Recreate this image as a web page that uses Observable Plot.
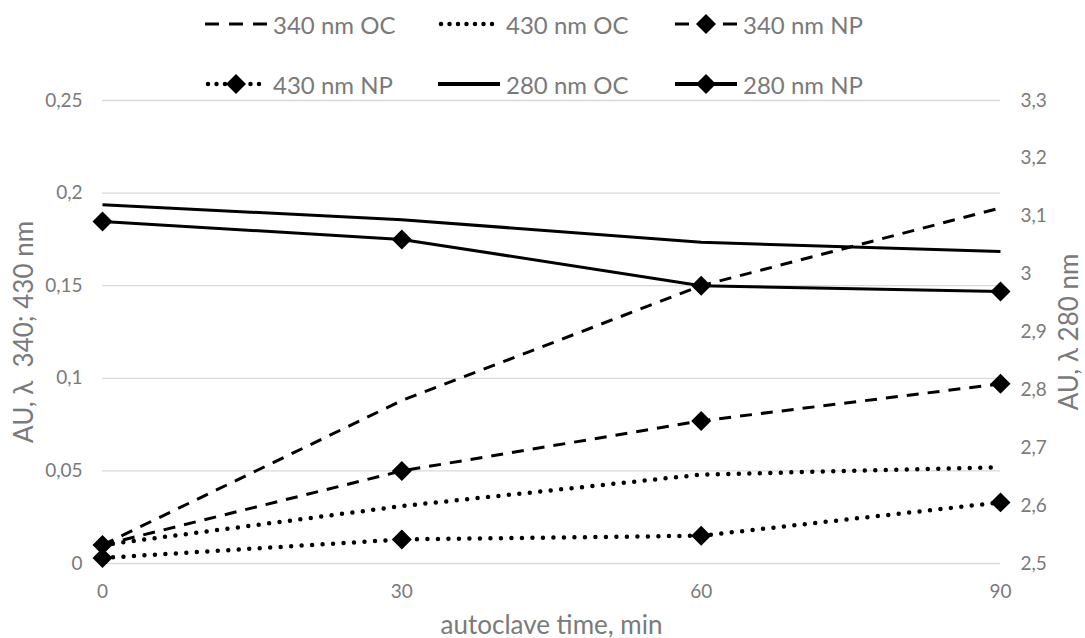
<!DOCTYPE html>
<html><head><meta charset="utf-8">
<script src="https://cdn.jsdelivr.net/npm/d3@7"></script>
<script src="https://cdn.jsdelivr.net/npm/@observablehq/plot@0.6"></script>
<style>
body{margin:0;background:#fff;font-family:Lato,sans-serif;}
#legend{position:relative;width:1085px;height:90px;}
#legend .item{position:absolute;height:30px;display:flex;align-items:center;}
#legend .item span{font-size:24px;color:#7a7a7a;margin-left:6px;white-space:nowrap;}
</style></head><body>
<div id="legend"></div>
<div id="chart"></div>
<script>
// ---- data ----
const times = [0, 30, 60, 90];
const seriesNames = ["340 nm OC", "430 nm OC", "340 nm NP", "430 nm NP", "280 nm OC", "280 nm NP"];
const oc340 = [0.010, 0.088, 0.150, 0.192];
const oc430 = [0.010, 0.031, 0.048, 0.052];
const np340 = [0.010, 0.050, 0.077, 0.097];
const np430 = [0.003, 0.013, 0.015, 0.033];
const oc280 = [3.120, 3.094, 3.055, 3.039];   // right axis
const np280 = [3.091, 3.060, 2.980, 2.970];   // right axis
const leftTicks = [0, 0.05, 0.1, 0.15, 0.2, 0.25];
const rightTicks = [2.5, 2.6, 2.7, 2.8, 2.9, 3.0, 3.1, 3.2, 3.3];
const xTicks = [0, 30, 60, 90];

// ---- styles ----
const DASH = "12,9", DOT = "0,10.5";
const styles = {
  "340 nm OC": {dash: DASH, cap: "butt", marker: false, right: false},
  "430 nm OC": {dash: DOT, cap: "round", marker: false, right: false},
  "340 nm NP": {dash: DASH, cap: "butt", marker: true, right: false},
  "430 nm NP": {dash: DOT, cap: "round", marker: true, right: false},
  "280 nm OC": {dash: null, cap: "butt", marker: false, right: true},
  "280 nm NP": {dash: null, cap: "butt", marker: true, right: true}
};
const values = [oc340, oc430, np340, np430, oc280, np280];

const L0 = 0, L1 = 0.25, R0 = 2.5, R1 = 3.3;
const toLeft = v => L0 + (v - R0) / (R1 - R0) * (L1 - L0);
const fromLeft = d => R0 + (d - L0) / (L1 - L0) * (R1 - R0);
const comma = v => String(v).replace(".", ",");

const rows = [];
seriesNames.forEach((s, i) => {
  values[i].forEach((v, j) => rows.push({series: s, t: times[j], v, y: styles[s].right ? toLeft(v) : v}));
});

const marks = [
  Plot.ruleY(leftTicks, {stroke: "#d9d9d9", strokeWidth: 1.3}),
  Plot.axisX(xTicks, {tickSize: 0, tickPadding: 21, fontSize: 19, label: "autoclave time, min", labelAnchor: "center", labelOffset: 70, labelArrow: "none"}),
  Plot.axisY(leftTicks, {anchor: "left", tickSize: 0, tickPadding: 20, fontSize: 19, tickFormat: comma, label: "AU, λ  340; 430 nm", labelAnchor: "center", labelOffset: 88, labelArrow: "none"}),
  Plot.axisY(rightTicks.map(toLeft), {anchor: "right", tickSize: 0, tickPadding: 20, fontSize: 19, tickFormat: d => comma(Math.round(fromLeft(d) * 10) / 10), label: "AU, λ 280 nm", labelAnchor: "center", labelOffset: 77, labelArrow: "none"})
];
seriesNames.forEach(s => {
  const st = styles[s];
  marks.push(Plot.line(rows.filter(r => r.series === s), {x: "t", y: "y", stroke: "black", strokeWidth: st.dash === DOT ? 4.5 : 3, strokeDasharray: st.dash, strokeLinecap: st.cap}));
});
seriesNames.forEach(s => {
  if (styles[s].marker) marks.push(Plot.dot(rows.filter(r => r.series === s), {x: "t", y: "y", symbol: "diamond2", r: 9, fill: "black", stroke: "none"}));
});

const chart = Plot.plot({
  width: 1085, height: 548,
  marginTop: 10, marginBottom: 75, marginLeft: 102, marginRight: 85,
  x: {domain: [0, 90]},
  y: {domain: [L0, L1]},
  style: {fontFamily: "Lato, sans-serif", color: "#7a7a7a", fontSize: "19px", background: "white", overflow: "visible"},
  marks
});
chart.querySelectorAll("[aria-label$='axis label']").forEach(g => g.setAttribute("font-size", "26"));
document.getElementById("chart").appendChild(chart);

// ---- legend ----
const legendPos = [[205, 9], [438, 9], [675, 9], [205, 69], [438, 69], [675, 69]];
const NS = "http://www.w3.org/2000/svg";
const leg = document.getElementById("legend");
seriesNames.forEach((s, i) => {
  const st = styles[s];
  const item = document.createElement("div");
  item.className = "item";
  item.style.left = legendPos[i][0] + "px";
  item.style.top = legendPos[i][1] + "px";
  const svg = document.createElementNS(NS, "svg");
  svg.setAttribute("width", 62); svg.setAttribute("height", 30);
  const ln = document.createElementNS(NS, "line");
  ln.setAttribute("x1", st.cap === "round" ? 3 : 0); ln.setAttribute("x2", 62);
  ln.setAttribute("y1", 15); ln.setAttribute("y2", 15);
  ln.setAttribute("stroke", "black"); ln.setAttribute("stroke-width", st.dash === DOT ? 4.5 : st.dash ? 3.2 : 4);
  if (st.dash) ln.setAttribute("stroke-dasharray", st.dash === DOT ? "0,8.5" : "14,10");
  ln.setAttribute("stroke-linecap", st.cap);
  svg.appendChild(ln);
  if (st.marker) {
    const p = document.createElementNS(NS, "path");
    p.setAttribute("d", "M31,5L41,15L31,25L21,15Z");
    p.setAttribute("fill", "black");
    svg.appendChild(p);
  }
  item.appendChild(svg);
  const sp = document.createElement("span");
  sp.textContent = s;
  item.appendChild(sp);
  leg.appendChild(item);
});
</script>
</body></html>
